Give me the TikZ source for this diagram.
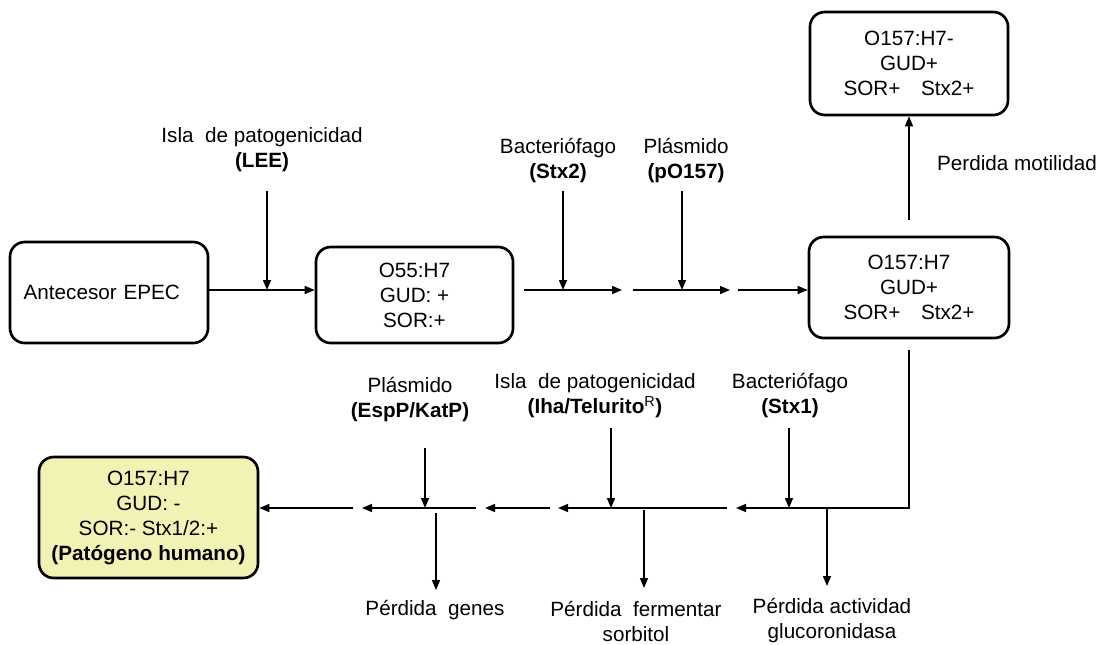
\documentclass[tikz,border=0pt]{standalone}
\usepackage{fontspec}
\setmainfont{Liberation Sans}
\usetikzlibrary{arrows.meta}
\definecolor{patyellow}{RGB}{243,242,181}
\tikzset{
  cepa/.style={draw,line width=2pt,rounded corners=11pt,align=center,inner sep=0pt},
  flecha/.style={line width=1.1pt,-{Triangle[length=7.5pt,width=6pt]}},
  linea/.style={line width=1.1pt},
  etiq/.style={align=center,inner sep=0pt},
}
\begin{document}
\begin{tikzpicture}[x=0.75pt,y=-0.75pt,font=\fontsize{15.5}{18.75}\selectfont]
\useasboundingbox (0,0) rectangle (1105,644);
% cepas
\node[cepa,minimum width=148.5pt,minimum height=75.75pt,text width=128pt,align=left] (A) at (109,292.5) {Antecesor EPEC};
\node[cepa,minimum width=147.75pt,minimum height=72pt] (B) at (414.5,295) {O55:H7\\GUD: +\\SOR:+};
\node[cepa,minimum width=150pt,minimum height=75.75pt] (C) at (909,287.5) {O157:H7\\GUD+\\SOR+\quad Stx2+};
\node[cepa,minimum width=148.5pt,minimum height=77.25pt] (D) at (909,63.5) {O157:H7-\\GUD+\\SOR+\quad Stx2+};
\node[cepa,fill=patyellow,minimum width=164.25pt,minimum height=90.75pt] (E) at (148.5,517.5) {O157:H7\\GUD: -\\SOR:- Stx1/2:+\\\textbf{(Patógeno humano)}};

% fila superior
\coordinate (lee) at (267,290);
\coordinate (leeTop) at (267,191);
\node[etiq] (leeLbl) at (262,150) {Isla\ \ de patogenicidad\\\textbf{(LEE)}};
\draw[flecha] (A.east |- lee) -- (B.west |- lee);
\draw[flecha] (leeTop) -- (lee);

\coordinate (s1a) at (524,290);
\coordinate (s1b) at (622,290);
\coordinate (stxTwo) at (563,290);
\coordinate (stxTwoTop) at (563,191);
\node[etiq] (stxTwoLbl) at (558,160.5) {Bacteriófago\\\textbf{(Stx2)}};
\draw[flecha] (s1a) -- (s1b);
\draw[flecha] (stxTwoTop) -- (stxTwo);

\coordinate (s2a) at (633,290);
\coordinate (s2b) at (730,290);
\coordinate (pO) at (682,290);
\coordinate (pOTop) at (682,191);
\node[etiq] (pOLbl) at (686,160.5) {Plásmido\\\textbf{(pO157)}};
\draw[flecha] (s2a) -- (s2b);
\draw[flecha] (pOTop) -- (pO);

\coordinate (s3a) at (738,290);
\draw[flecha] (s3a) -- (C.west |- s3a);

% motilidad
\coordinate (motTop) at (909,220);
\draw[flecha] (motTop) -- (D.south);
\node[etiq] (motLbl) at (1017,163) {Perdida motilidad};

% fila inferior
\coordinate (cBot) at (909,350);
\coordinate (r1) at (736,508);
\draw[flecha] (cBot) |- (r1);
\coordinate (stxOne) at (789,508);
\coordinate (stxOneTop) at (789,428);
\node[etiq] (stxOneLbl) at (790,396) {Bacteriófago\\\textbf{(Stx1)}};
\draw[flecha] (stxOneTop) -- (stxOne);
\coordinate (gluA) at (827,508);
\coordinate (gluB) at (827,586);
\draw[flecha] (gluA) -- (gluB);
\node[etiq] (gluLbl) at (832,621) {Pérdida actividad\\glucoronidasa};

\coordinate (r2a) at (727,508);
\coordinate (r2b) at (558,508);
\coordinate (iha) at (611,508);
\coordinate (ihaTop) at (611,428);
\node[etiq] (ihaLbl) at (595,396) {Isla\ \ de patogenicidad\\\textbf{(Iha/Telurito\textsuperscript{\mdseries R})}};
\draw[flecha] (r2a) -- (r2b);
\draw[flecha] (ihaTop) -- (iha);
\coordinate (sorA) at (644,510);
\coordinate (sorB) at (644,588);
\draw[flecha] (sorA) -- (sorB);
\node[etiq] (sorLbl) at (636,621) {Pérdida\ \ fermentar\\sorbitol};

\coordinate (r3a) at (550,508);
\coordinate (r3b) at (485,508);
\draw[flecha] (r3a) -- (r3b);

\coordinate (r4a) at (476,508);
\coordinate (r4b) at (362,508);
\coordinate (esp) at (425,508);
\coordinate (espTop) at (425,448);
\node[etiq] (espLbl) at (410,400) {Plásmido\\\textbf{(EspP/KatP)}};
\draw[flecha] (r4a) -- (r4b);
\draw[flecha] (espTop) -- (esp);
\coordinate (genA) at (436,513);
\coordinate (genB) at (436,590);
\draw[flecha] (genA) -- (genB);
\node[etiq] (genLbl) at (435,610) {Pérdida\ \ genes};

\coordinate (fin) at (353,508);
\draw[flecha] (fin) -- (E.east |- fin);
\end{tikzpicture}
\end{document}
